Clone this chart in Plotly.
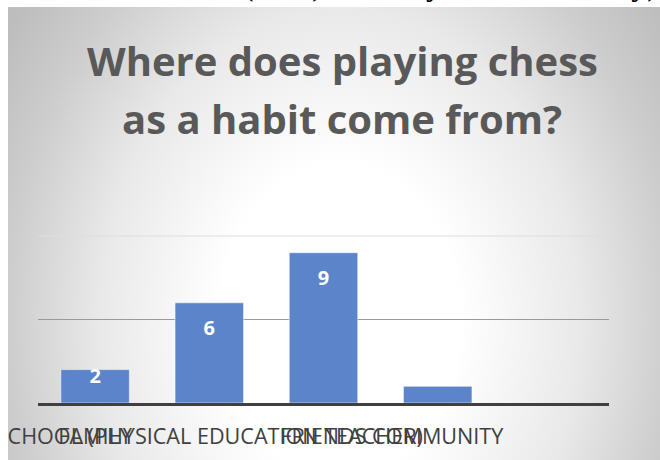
import base64
import plotly.graph_objects as go

# ---- data ----
categories = ["FAMILY", "SCHOOL (PHYSICAL EDUCATION TEACHER)", "FRIENDS", "COMMUNITY"]
values = [2, 6, 9, 1]
title_lines = ["Where does playing chess", "as a habit come from?"]
top_text = "role of the teacher (36%) and very little the family)"

# ---- layout geometry (pixels) ----
WIDTH, HEIGHT = 660, 460
L, R, T, B = 38, 609, 236, 403
PW, PH = R - L, B - T


def fx(px):
    return (px - L) / PW


def fy(py):
    return (B - py) / PH


# radial gradient background as an SVG image
bg_x0, bg_y0 = 8, 7
bg_w, bg_h = WIDTH - bg_x0 + 10, HEIGHT - bg_y0 + 10
svg = f'''<svg xmlns="http://www.w3.org/2000/svg" width="{bg_w}" height="{bg_h}" viewBox="0 0 {bg_w} {bg_h}">
<defs><radialGradient id="g" gradientUnits="userSpaceOnUse" cx="332" cy="313" r="400"
 gradientTransform="translate(332,313) scale(1,1.3) translate(-332,-313)">
<stop offset="0" stop-color="#ffffff"/>
<stop offset="0.3" stop-color="#ffffff"/>
<stop offset="0.6" stop-color="#e9e9e9"/>
<stop offset="0.83" stop-color="#cdcdcd"/>
<stop offset="1" stop-color="#bdbdbd"/>
</radialGradient></defs>
<rect x="0" y="0" width="{bg_w}" height="{bg_h}" fill="url(#g)"/>
</svg>'''
bg_uri = "data:image/svg+xml;base64," + base64.b64encode(svg.encode()).decode()

label_font = "Open Sans"

fig = go.Figure()
fig.add_trace(go.Bar(
    x=list(range(len(categories))),
    y=values,
    marker=dict(color="#5B84CA", line=dict(color="rgba(255,255,255,0.55)", width=1)),
    width=0.6,
    hoverinfo="skip",
))

# data labels (inside end, clamped near baseline for short bars)
label_y = [max(v - 1.62, 1.5) for v in values]
fig.add_trace(go.Scatter(
    x=list(range(len(categories))),
    y=label_y,
    mode="text",
    text=[str(v) for v in values],
    textfont=dict(family=label_font, size=20, color="white", weight="bold"),
    hoverinfo="skip",
))

fig.update_layout(
    width=WIDTH, height=HEIGHT,
    margin=dict(l=L, r=WIDTH - R, t=T, b=HEIGHT - B, autoexpand=False),
    paper_bgcolor="white",
    plot_bgcolor="rgba(0,0,0,0)",
    showlegend=False,
    images=[dict(
        source=bg_uri, xref="paper", yref="paper",
        x=fx(bg_x0), y=fy(bg_y0), sizex=bg_w / PW, sizey=bg_h / PH,
        xanchor="left", yanchor="top", sizing="stretch", layer="below",
    )],
    xaxis=dict(
        range=[-0.5, 4.5],
        tickmode="array",
        tickvals=list(range(len(categories))),
        ticktext=categories,
        tickangle=0,
        ticks="",
        ticklabelstandoff=12,
        ticklabeloverflow="allow",
        showline=True, linecolor="#404040", linewidth=3,
        showgrid=False, zeroline=False,
        tickfont=dict(family=label_font, size=21.6, color="#404040"),
        automargin=False,
        fixedrange=True,
    ),
    yaxis=dict(
        range=[0, 10],
        tickmode="array", tickvals=[5],
        showticklabels=False, ticks="",
        showgrid=True, gridcolor="#9a9a9a", gridwidth=1,
        zeroline=False, showline=False,
        automargin=False,
        fixedrange=True,
    ),
    shapes=[
        dict(type="line", xref="x domain", yref="y domain", x0=0, x1=1, y0=1, y1=1,
             line=dict(color="#dedede", width=1), layer="below"),
        dict(type="rect", xref="paper", yref="paper", x0=fx(-20), x1=fx(bg_x0), y0=fy(480), y1=fy(bg_y0),
             fillcolor="white", line=dict(width=0), layer="above"),
    ],
    annotations=[
        dict(text=title_lines[0], xref="paper", yref="paper", x=fx(342), y=fy(60),
             xanchor="center", yanchor="middle", showarrow=False,
             font=dict(family=label_font, size=40, color="#595959", weight="bold")),
        dict(text=title_lines[1], xref="paper", yref="paper", x=fx(342), y=fy(118),
             xanchor="center", yanchor="middle", showarrow=False,
             font=dict(family=label_font, size=40, color="#595959", weight="bold")),
        dict(text=top_text, xref="paper", yref="paper", x=fx(330), y=fy(3),
             xanchor="center", yanchor="bottom", showarrow=False, borderpad=0,
             font=dict(family="Liberation Serif", size=32, color="black")),
    ],
)

fig.write_html(
    "out.html",
    config={"displayModeBar": False, "staticPlot": True},
    post_script="document.body.style.margin='0';",
)
